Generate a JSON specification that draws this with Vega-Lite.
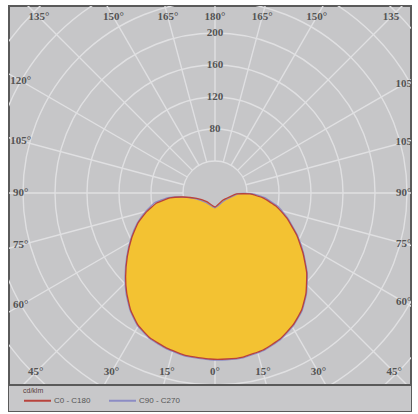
{
  "$schema": "https://vega.github.io/schema/vega-lite/v6.json",
  "width": 402,
  "height": 405,
  "autosize": "none",
  "padding": {"left": 9, "top": 6, "right": 7, "bottom": 3},
  "background": "white",
  "config": {
    "view": {"fill": "#c6c6c8", "stroke": "#5a5a5a", "strokeWidth": 2},
    "text": {"font": "Liberation Serif", "fontSize": 11, "fontWeight": "bold", "color": "#545454"}
  },
  "datasets": {
    "rays": [{"angle": 0}, {"angle": 15}, {"angle": 30}, {"angle": 45}, {"angle": 60}, {"angle": 75}, {"angle": 90}, {"angle": 105}, {"angle": 120}, {"angle": 135}, {"angle": 150}, {"angle": 165}, {"angle": 180}, {"angle": 195}, {"angle": 210}, {"angle": 225}, {"angle": 240}, {"angle": 255}, {"angle": 270}, {"angle": 285}, {"angle": 300}, {"angle": 315}, {"angle": 330}, {"angle": 345}],
    "circles": [{"r": 40}, {"r": 80}, {"r": 120}, {"r": 160}, {"r": 200}, {"r": 240}, {"r": 280}, {"r": 320}, {"r": 360}, {"r": 400}],
    "anglelabels": [
      {"angle": 0, "label": "0°"}, {"angle": 15, "label": "15°"}, {"angle": 30, "label": "30°"}, {"angle": 45, "label": "45°"},
      {"angle": 60, "label": "60°"}, {"angle": 75, "label": "75°"}, {"angle": 90, "label": "90°"}, {"angle": 105, "label": "105"},
      {"angle": 120, "label": "105"}, {"angle": 135, "label": "135"}, {"angle": 150, "label": "150°"}, {"angle": 165, "label": "165°"},
      {"angle": 180, "label": "180°"},
      {"angle": -15, "label": "15°"}, {"angle": -30, "label": "30°"}, {"angle": -45, "label": "45°"}, {"angle": -60, "label": "60°"},
      {"angle": -75, "label": "75°"}, {"angle": -90, "label": "90°"}, {"angle": -105, "label": "105°"}, {"angle": -120, "label": "120°"},
      {"angle": -135, "label": "135°"}, {"angle": -150, "label": "150°"}, {"angle": -165, "label": "165°"}
    ],
    "radlabels": [{"v": 80}, {"v": 120}, {"v": 160}, {"v": 200}],
    "curve": [
      {"plane": "C90 - C270", "n": 0, "phi": 0, "I": 18.5},
      {"plane": "C90 - C270", "n": 1, "phi": -44, "I": 16.5},
      {"plane": "C90 - C270", "n": 2, "phi": -74, "I": 26},
      {"plane": "C90 - C270", "n": 3, "phi": -83.5, "I": 43},
      {"plane": "C90 - C270", "n": 4, "phi": -84.5, "I": 59},
      {"plane": "C90 - C270", "n": 5, "phi": -81, "I": 76},
      {"plane": "C90 - C270", "n": 6, "phi": -75, "I": 90},
      {"plane": "C90 - C270", "n": 7, "phi": -68.7, "I": 104.5},
      {"plane": "C90 - C270", "n": 8, "phi": -61.6, "I": 119.5},
      {"plane": "C90 - C270", "n": 9, "phi": -54, "I": 136.5},
      {"plane": "C90 - C270", "n": 10, "phi": -46.9, "I": 154},
      {"plane": "C90 - C270", "n": 11, "phi": -41.4, "I": 168},
      {"plane": "C90 - C270", "n": 12, "phi": -35.8, "I": 181.3},
      {"plane": "C90 - C270", "n": 13, "phi": -30.3, "I": 192},
      {"plane": "C90 - C270", "n": 14, "phi": -24.1, "I": 199.6},
      {"plane": "C90 - C270", "n": 15, "phi": -17.3, "I": 204},
      {"plane": "C90 - C270", "n": 16, "phi": -9.9, "I": 207.4},
      {"plane": "C90 - C270", "n": 17, "phi": -1.7, "I": 208.6},
      {"plane": "C90 - C270", "n": 18, "phi": 4, "I": 209},
      {"plane": "C90 - C270", "n": 19, "phi": 9.7, "I": 209},
      {"plane": "C90 - C270", "n": 20, "phi": 17, "I": 206.2},
      {"plane": "C90 - C270", "n": 21, "phi": 24, "I": 200.8},
      {"plane": "C90 - C270", "n": 22, "phi": 30.6, "I": 192.6},
      {"plane": "C90 - C270", "n": 23, "phi": 36.5, "I": 183},
      {"plane": "C90 - C270", "n": 24, "phi": 42.3, "I": 170},
      {"plane": "C90 - C270", "n": 25, "phi": 48.9, "I": 153.1},
      {"plane": "C90 - C270", "n": 26, "phi": 55.7, "I": 134.1},
      {"plane": "C90 - C270", "n": 27, "phi": 62.8, "I": 116},
      {"plane": "C90 - C270", "n": 28, "phi": 70.8, "I": 96.5},
      {"plane": "C90 - C270", "n": 29, "phi": 77.8, "I": 81},
      {"plane": "C90 - C270", "n": 30, "phi": 84.6, "I": 62.5},
      {"plane": "C90 - C270", "n": 31, "phi": 89, "I": 46},
      {"plane": "C90 - C270", "n": 32, "phi": 88.5, "I": 29.5},
      {"plane": "C90 - C270", "n": 33, "phi": 50, "I": 15},
      {"plane": "C0 - C180", "n": 0, "phi": 0, "I": 17.5},
      {"plane": "C0 - C180", "n": 1, "phi": -43.7, "I": 15},
      {"plane": "C0 - C180", "n": 2, "phi": -73.8, "I": 23.8},
      {"plane": "C0 - C180", "n": 3, "phi": -82.9, "I": 40.3},
      {"plane": "C0 - C180", "n": 4, "phi": -83.7, "I": 56.6},
      {"plane": "C0 - C180", "n": 5, "phi": -80.3, "I": 74},
      {"plane": "C0 - C180", "n": 6, "phi": -74.7, "I": 88.5},
      {"plane": "C0 - C180", "n": 7, "phi": -68.7, "I": 103.3},
      {"plane": "C0 - C180", "n": 8, "phi": -61.6, "I": 118.4},
      {"plane": "C0 - C180", "n": 9, "phi": -54, "I": 135.5},
      {"plane": "C0 - C180", "n": 10, "phi": -46.9, "I": 153},
      {"plane": "C0 - C180", "n": 11, "phi": -41.4, "I": 166.8},
      {"plane": "C0 - C180", "n": 12, "phi": -35.8, "I": 180.3},
      {"plane": "C0 - C180", "n": 13, "phi": -30.3, "I": 191},
      {"plane": "C0 - C180", "n": 14, "phi": -24.1, "I": 198.6},
      {"plane": "C0 - C180", "n": 15, "phi": -17.3, "I": 203},
      {"plane": "C0 - C180", "n": 16, "phi": -9.9, "I": 206.4},
      {"plane": "C0 - C180", "n": 17, "phi": -1.7, "I": 207.6},
      {"plane": "C0 - C180", "n": 18, "phi": 4, "I": 208},
      {"plane": "C0 - C180", "n": 19, "phi": 9.7, "I": 208},
      {"plane": "C0 - C180", "n": 20, "phi": 17, "I": 205.2},
      {"plane": "C0 - C180", "n": 21, "phi": 24, "I": 199.8},
      {"plane": "C0 - C180", "n": 22, "phi": 30.6, "I": 191.6},
      {"plane": "C0 - C180", "n": 23, "phi": 36.5, "I": 182},
      {"plane": "C0 - C180", "n": 24, "phi": 42.3, "I": 169},
      {"plane": "C0 - C180", "n": 25, "phi": 48.9, "I": 152.1},
      {"plane": "C0 - C180", "n": 26, "phi": 55.7, "I": 133.1},
      {"plane": "C0 - C180", "n": 27, "phi": 62.8, "I": 114.8},
      {"plane": "C0 - C180", "n": 28, "phi": 70.8, "I": 94.9},
      {"plane": "C0 - C180", "n": 29, "phi": 77.5, "I": 79},
      {"plane": "C0 - C180", "n": 30, "phi": 84.1, "I": 60.3},
      {"plane": "C0 - C180", "n": 31, "phi": 88.4, "I": 43.8},
      {"plane": "C0 - C180", "n": 32, "phi": 87.4, "I": 27.2},
      {"plane": "C0 - C180", "n": 33, "phi": 48.8, "I": 13.3}
    ]
  },
  "layer": [
    {
      "data": {"name": "rays"},
      "transform": [
        {"calculate": "40*sin(datum.angle*PI/180)", "as": "x1"},
        {"calculate": "-40*cos(datum.angle*PI/180)", "as": "y1"},
        {"calculate": "500*sin(datum.angle*PI/180)", "as": "x2"},
        {"calculate": "-500*cos(datum.angle*PI/180)", "as": "y2"}
      ],
      "mark": {"type": "rule", "stroke": "#e0e0e2", "strokeWidth": 1.4, "clip": true},
      "encoding": {
        "x": {"field": "x1", "type": "quantitative", "scale": {"domain": [-257.5, 245], "nice": false, "zero": false}, "axis": null},
        "y": {"field": "y1", "type": "quantitative", "scale": {"domain": [-272.5, 233.75], "nice": false, "zero": false}, "axis": null},
        "x2": {"field": "x2"},
        "y2": {"field": "y2"}
      }
    },
    {
      "data": {"name": "circles"},
      "mark": {"type": "point", "shape": "circle", "filled": false, "stroke": "#e0e0e2", "strokeWidth": 1.4, "opacity": 1, "clip": true},
      "encoding": {
        "x": {"datum": 0, "type": "quantitative", "scale": {"domain": [-257.5, 245], "nice": false, "zero": false}, "axis": null},
        "y": {"datum": 0, "type": "quantitative", "scale": {"domain": [-272.5, 233.75], "nice": false, "zero": false}, "axis": null},
        "size": {"field": "r", "type": "quantitative", "scale": {"type": "pow", "exponent": 2, "domain": [0, 400], "range": [0, 409600]}, "legend": null}
      }
    },
    {
      "data": {"values": [{}]},
      "mark": {"type": "rect", "fill": "#c8c8ca", "clip": true},
      "encoding": {
        "x": {"datum": -300, "type": "quantitative", "scale": {"domain": [-257.5, 245], "nice": false, "zero": false}, "axis": null},
        "x2": {"datum": 300},
        "y": {"datum": -240, "type": "quantitative", "scale": {"domain": [-272.5, 233.75], "nice": false, "zero": false}, "axis": null},
        "y2": {"datum": -400}
      }
    },
    {
      "data": {"values": [{}]},
      "mark": {"type": "rule", "stroke": "#5a5a5a", "strokeWidth": 2, "clip": true},
      "encoding": {
        "x": {"datum": -300, "type": "quantitative", "scale": {"domain": [-257.5, 245], "nice": false, "zero": false}, "axis": null},
        "x2": {"datum": 300},
        "y": {"datum": -240, "type": "quantitative", "scale": {"domain": [-272.5, 233.75], "nice": false, "zero": false}, "axis": null}
      }
    },
    {
      "data": {"name": "anglelabels"},
      "transform": [
        {"calculate": "sin(datum.angle*PI/180)", "as": "s"},
        {"calculate": "cos(datum.angle*PI/180)", "as": "c"},
        {"calculate": "datum.s < 0 ? 243 : 236", "as": "xe"},
        {"calculate": "datum.c > 0 ? 224 : 220", "as": "ye"},
        {"calculate": "min(abs(datum.s) > 0.000001 ? datum.xe/abs(datum.s) : 1e9, abs(datum.c) > 0.000001 ? datum.ye/abs(datum.c) : 1e9)", "as": "t"},
        {"calculate": "datum.t*datum.s", "as": "lx"},
        {"calculate": "-datum.t*datum.c", "as": "ly"}
      ],
      "mark": {"type": "text", "align": "center", "baseline": "middle"},
      "encoding": {
        "x": {"field": "lx", "type": "quantitative", "scale": {"domain": [-257.5, 245], "nice": false, "zero": false}, "axis": null},
        "y": {"field": "ly", "type": "quantitative", "scale": {"domain": [-272.5, 233.75], "nice": false, "zero": false}, "axis": null},
        "text": {"field": "label"}
      }
    },
    {
      "data": {"name": "radlabels"},
      "mark": {"type": "text", "align": "center", "baseline": "middle"},
      "encoding": {
        "x": {"datum": 0, "type": "quantitative", "scale": {"domain": [-257.5, 245], "nice": false, "zero": false}, "axis": null},
        "y": {"field": "v", "type": "quantitative", "scale": {"domain": [-272.5, 233.75], "nice": false, "zero": false}, "axis": null},
        "text": {"field": "v"}
      }
    },
    {
      "data": {"name": "curve"},
      "transform": [
        {"filter": "datum.plane == 'C0 - C180'"},
        {"calculate": "datum.I*sin(datum.phi*PI/180)", "as": "cx"},
        {"calculate": "-datum.I*cos(datum.phi*PI/180)", "as": "cy"}
      ],
      "mark": {"type": "line", "fill": "#f3c232", "strokeWidth": 0, "interpolate": "cardinal-closed", "tension": 0.6},
      "encoding": {
        "x": {"field": "cx", "type": "quantitative", "scale": {"domain": [-257.5, 245], "nice": false, "zero": false}, "axis": null},
        "y": {"field": "cy", "type": "quantitative", "scale": {"domain": [-272.5, 233.75], "nice": false, "zero": false}, "axis": null},
        "order": {"field": "n"}
      }
    },
    {
      "data": {"name": "curve"},
      "transform": [
        {"calculate": "datum.I*sin(datum.phi*PI/180)", "as": "cx"},
        {"calculate": "-datum.I*cos(datum.phi*PI/180)", "as": "cy"}
      ],
      "mark": {"type": "line", "strokeWidth": 1.3, "interpolate": "cardinal-closed", "tension": 0.6},
      "encoding": {
        "x": {"field": "cx", "type": "quantitative", "scale": {"domain": [-257.5, 245], "nice": false, "zero": false}, "axis": null},
        "y": {"field": "cy", "type": "quantitative", "scale": {"domain": [-272.5, 233.75], "nice": false, "zero": false}, "axis": null},
        "order": {"field": "n"},
        "color": {
          "field": "plane", "type": "nominal",
          "scale": {"domain": ["C0 - C180", "C90 - C270"], "range": ["#b8433c", "#8c8cc4"]},
          "legend": {
            "orient": "none", "legendX": 14, "legendY": 381, "direction": "horizontal",
            "title": "cd/klm", "titleFontSize": 7, "titleFont": "Liberation Sans", "titleFontWeight": "normal", "titleColor": "#5a4040", "titlePadding": -8,
            "labelFontSize": 8, "labelFont": "Liberation Sans", "labelColor": "#555555", "labelOffset": 2,
            "symbolType": "stroke", "symbolSize": 729, "symbolStrokeWidth": 2, "columnPadding": 14, "padding": 0
          }
        }
      }
    }
  ]
}
